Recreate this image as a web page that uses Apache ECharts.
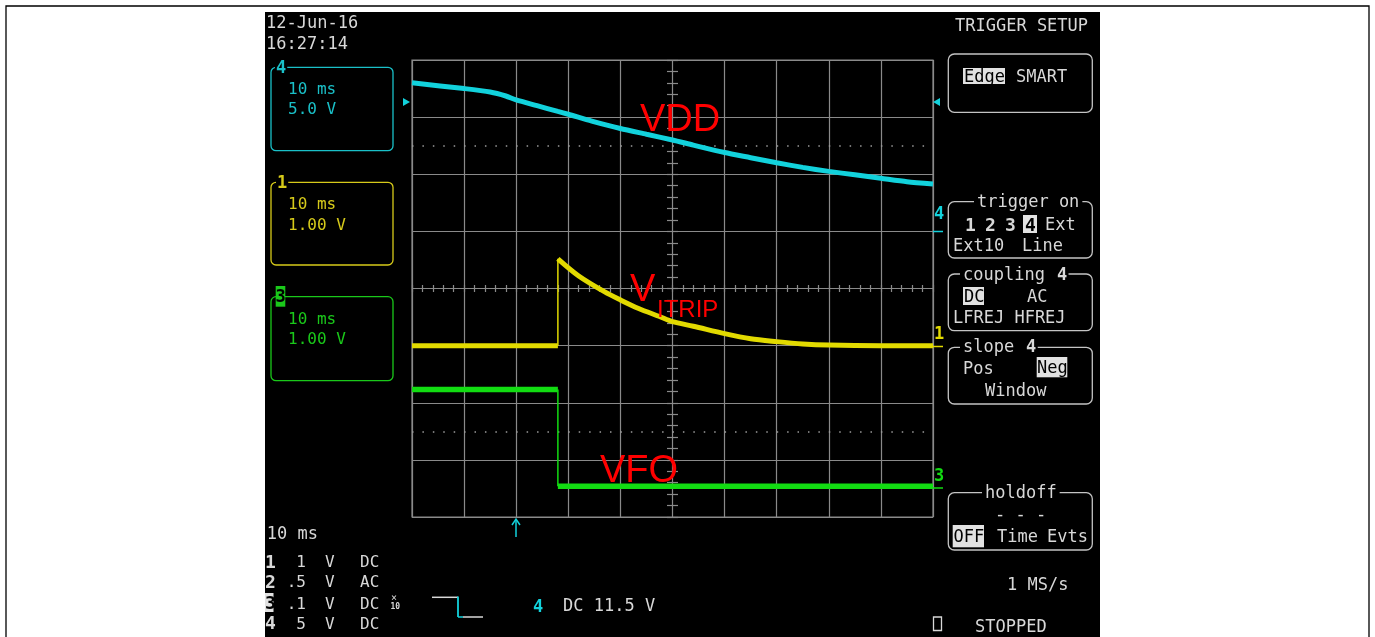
<!DOCTYPE html>
<html><head><meta charset="utf-8">
<script src="https://cdn.jsdelivr.net/npm/echarts@6/dist/echarts.min.js"></script>
<style>html,body{margin:0;padding:0;background:#fff}#c{width:1375px;height:637px}</style>
</head><body><div id="c"></div>
<script>
// ---- data (time in ms, 10 ms/div; voltages in V) ----
const timeMin = -20, timeMax = 80, timeStep = 10;
const divMin = -4, divMax = 4;

// Channel 4 : VDD (5 V/div)
const vddTime  = [-20, -10, -5, -2, 0, 4, 8, 10, 14.5, 20, 25, 30, 34, 40, 45, 50, 55, 60, 65, 70, 75, 80];
const vddVolts = [13.0, 12.5, 12.2, 11.85, 11.5, 11.0, 10.5, 10.25, 9.65, 9.0, 8.5, 8.0, 7.55, 6.9, 6.45, 6.0, 5.6, 5.25, 4.95, 4.65, 4.35, 4.15];

// Channel 1 : VITRIP (1 V/div)
const itripBaseTime  = [-20, 8];
const itripBaseVolts = [0, 0];
const itripTime  = [8, 12, 17, 20, 23.5, 27.5, 30, 34, 40, 45, 50, 55, 60, 70, 80];
const itripVolts = [1.52, 1.22, 0.94, 0.80, 0.65, 0.51, 0.42, 0.34, 0.21, 0.12, 0.07, 0.03, 0.01, 0, 0];

// Channel 3 : VFO (1 V/div)
const vfoHighTime  = [-20, 8];
const vfoHighVolts = [1.69, 1.69];
const vfoLowTime   = [8, 80];
const vfoLowVolts  = [0, 0];

const edgeTime = 8;
const dottedLevels = [2.5, -2.5];

// channel vertical settings: volts per division and ground position (div)
const chVDD   = { voltsPerDiv: 5, groundDiv: 1.0 };
const chITRIP = { voltsPerDiv: 1, groundDiv: -1.0 };
const chVFO   = { voltsPerDiv: 1, groundDiv: -3.46 };

// ---- helpers ----
const toDiv = (v, c) => v / c.voltsPerDiv + c.groundDiv;
const pts = (ts, vs, c) => ts.map((t, i) => [t, toDiv(vs[i], c)]);

const CYAN = '#12d2dc', CYAN_T = '#1ac0c8';
const YEL = '#e2da00', YEL_T = '#d6ca1a';
const GRN = '#12dc12', GRN_T = '#1ac81a';
const WH = '#d8d8d8', BOXC = '#c4c4c4', GRID = '#8a8a8a';
const MONO = '"DejaVu Sans Mono", monospace';
const SANS = '"Liberation Sans", Arial, sans-serif';

function T(x, y, text, fill, o) {
  o = o || {};
  const fam = o.family || MONO;
  const dy = fam === MONO ? 2 : 3.5;
  const st = {
    text: text, fill: fill,
    font: (o.bold ? 'bold ' : '') + (o.size || 17) + 'px ' + fam,
    align: o.align || 'left', textAlign: o.align || 'left',
    verticalAlign: 'middle', textVerticalAlign: 'middle'
  };
  if (o.bg) { st.backgroundColor = o.bg; st.padding = o.pad || [0, 3]; }
  return { type: 'text', x: x, y: y + dy, z: 100, silent: true, style: st };
}
function R(x, y, w, h, stroke, fill, r, z) {
  return { type: 'rect', z: z == null ? 50 : z, silent: true,
    shape: { x: x, y: y, width: w, height: h, r: r || 0 },
    style: { fill: fill || 'none', stroke: stroke || null, lineWidth: 1.3 } };
}
function L(x1, y1, x2, y2, color, w) {
  return { type: 'line', z: 60, silent: true, shape: { x1: x1, y1: y1, x2: x2, y2: y2 },
    style: { stroke: color, lineWidth: w || 1.5 } };
}
function P(points, color) {
  return { type: 'polygon', z: 60, silent: true, shape: { points: points }, style: { fill: color } };
}

const graphics = [
  // screen background and page frame
  R(6, 6, 1363, 660, '#000', 'none', 0, -20),
  R(265, 12, 835, 640, null, '#000', 0, -10),

  // top-left date / time
  T(266, 21.5, '12-Jun-16', WH),
  T(266, 42.5, '16:27:14', WH),

  // channel 4 box
  R(271, 67.3, 122, 83.4, CYAN_T, 'none', 5),
  T(275, 67, '4', CYAN_T, { bold: true, bg: '#000', pad: [0, 1] }),
  T(288, 88, '10 ms', CYAN_T, { size: 16 }),
  T(288, 108, '5.0 V', CYAN_T, { size: 16 }),
  // channel 1 box
  R(271, 182.3, 122, 82.7, YEL_T, 'none', 5),
  T(276, 181.5, '1', YEL_T, { bold: true, bg: '#000', pad: [0, 1] }),
  T(288, 203, '10 ms', YEL_T, { size: 16 }),
  T(288, 223.5, '1.00 V', YEL_T, { size: 16 }),
  // channel 3 box
  R(271, 296.7, 122, 84, GRN_T, 'none', 5),
  R(275.7, 286, 9.6, 20.7, null, GRN_T, 0, 55),
  T(275.5, 296, '3', '#000', { bold: true }),
  T(288, 317.5, '10 ms', GRN_T, { size: 16 }),
  T(288, 338, '1.00 V', GRN_T, { size: 16 }),

  // right menu
  T(955, 25, 'TRIGGER SETUP', WH),
  R(948.3, 54, 144, 58.3, BOXC, 'none', 6),
  R(963, 68, 42, 16, null, '#e2e2e2', 0, 55),
  T(964, 75.5, 'Edge', '#000'),
  T(1016, 75.5, 'SMART', WH),

  R(948.3, 201.7, 144, 56.3, BOXC, 'none', 6),
  T(974, 201, 'trigger on', WH, { bg: '#000', pad: [0, 3] }),
  T(965, 224, '1', WH, { bold: true, size: 18 }),
  T(985, 224, '2', WH, { bold: true, size: 18 }),
  T(1005, 224, '3', WH, { bold: true, size: 18 }),
  R(1023, 215, 14, 18, null, '#e2e2e2', 0, 55),
  T(1025, 224, '4', '#000', { bold: true, size: 18 }),
  T(1045, 224, 'Ext', WH),
  T(953, 245, 'Ext10', WH),
  T(1022, 245, 'Line', WH),

  R(948.3, 274, 144, 56.7, BOXC, 'none', 6),
  T(960, 273.5, 'coupling  ', WH, { bg: '#000', pad: [0, 3] }),
  T(1056, 273.5, '4', WH, { bold: true, bg: '#000', pad: [0, 1] }),
  R(963, 287, 21, 18, null, '#e2e2e2', 0, 55),
  T(964, 296, 'DC', '#000'),
  T(1027, 296, 'AC', WH),
  T(953, 316.5, 'LFREJ HFREJ', WH),

  R(948.3, 347.3, 144, 56.7, BOXC, 'none', 6),
  T(960, 346, 'slope  ', WH, { bg: '#000', pad: [0, 3] }),
  T(1025, 346, '4', WH, { bold: true, bg: '#000', pad: [0, 1] }),
  T(963, 368, 'Pos', WH),
  R(1036.7, 357, 30.6, 20.3, null, '#e2e2e2', 0, 55),
  T(1037, 367, 'Neg', '#000'),
  T(985, 390, 'Window', WH),

  R(948.3, 492.7, 144, 57.3, BOXC, 'none', 6),
  T(982, 492, 'holdoff', WH, { bg: '#000', pad: [0, 3] }),
  T(995, 514, '- - -', WH),
  R(952.7, 525, 31.3, 22.3, null, '#e2e2e2', 0, 55),
  T(953.5, 535.5, 'OFF', '#000'),
  T(997, 536, 'Time', WH),
  T(1047, 536, 'Evts', WH),

  T(1007, 583.5, '1 MS/s', WH),
  R(933.5, 617, 8, 13.5, WH, 'none', 0),
  T(975, 625.5, 'STOPPED', WH),

  // right edge channel markers
  P([[933, 102], [940, 98], [940, 106]], CYAN),
  T(934, 213, '4', CYAN, { bold: true }),
  L(933, 231.5, 943, 231.5, CYAN, 1.5),
  T(934, 333, '1', YEL, { bold: true }),
  L(930, 346.5, 943, 346.5, YEL, 1.5),
  T(934, 475, '3', GRN, { bold: true }),
  L(930, 488, 943, 488, GRN, 1.5),
  // left edge trigger level marker
  P([[410, 102], [403, 98], [403, 106]], CYAN),

  // trigger position arrow
  L(516, 537, 516, 520, CYAN, 1.5),
  { type: 'polyline', z: 60, silent: true, shape: { points: [[512, 525], [516, 519], [520, 525]] }, style: { stroke: CYAN, lineWidth: 1.5, fill: 'none' } },

  // bottom-left summary
  T(266.7, 532.5, '10 ms', WH),
  T(265, 561, '1', WH, { bold: true, size: 18 }),
  T(265, 581, '2', WH, { bold: true, size: 18 }),
  R(265, 593, 8.5, 19, null, '#e2e2e2', 0, 55),
  T(265, 602, '3', '#000', { bold: true, size: 18 }),
  T(265, 622.5, '4', WH, { bold: true, size: 18 }),
  T(306, 561, '1', WH, { size: 16, align: 'right' }),
  T(306, 581, '.5', WH, { size: 16, align: 'right' }),
  T(306, 602.5, '.1', WH, { size: 16, align: 'right' }),
  T(306, 622.5, '5', WH, { size: 16, align: 'right' }),
  T(325, 561, 'V', WH, { size: 16 }),
  T(325, 581, 'V', WH, { size: 16 }),
  T(325, 602.5, 'V', WH, { size: 16 }),
  T(325, 622.5, 'V', WH, { size: 16 }),
  T(360, 561, 'DC', WH, { size: 16 }),
  T(360, 581, 'AC', WH, { size: 16 }),
  T(360, 602.5, 'DC', WH, { size: 16 }),
  T(360, 622.5, 'DC', WH, { size: 16 }),
  T(391, 596, '×', WH, { size: 10 }),
  T(390.5, 605, '10', WH, { size: 8, bold: true }),

  // trigger slope symbol
  L(432, 597.3, 458, 597.3, WH, 1.5),
  L(458, 596.6, 458, 617, CYAN, 1.8),
  L(458, 617, 463, 617, CYAN, 1.5),
  L(463, 617, 483, 617, WH, 1.5),
  T(533, 605.5, '4', CYAN, { bold: true }),
  T(563, 605, 'DC 11.5 V', WH),

  // red annotations
  T(640, 117, 'VDD', '#ff0000', { size: 38, family: SANS }),
  T(630, 287, 'V', '#ff0000', { size: 38, family: SANS }),
  T(657, 306.5, 'ITRIP', '#ff0000', { size: 24, family: SANS }),
  T(600, 468, 'VFO', '#ff0000', { size: 38, family: SANS })
];

const tickStyle = { color: GRID, width: 1.2 };
function tickAxis(dim, inside, len) {
  return {
    type: 'value', gridIndex: 0,
    min: dim === 'x' ? -5 : divMin, max: dim === 'x' ? 5 : divMax, interval: 1,
    position: dim === 'x' ? 'bottom' : 'left',
    axisLine: { show: false, onZero: true, onZeroAxisIndex: 1 },
    axisTick: { show: true, inside: inside, length: len, lineStyle: tickStyle },
    minorTick: { show: true, splitNumber: 5, length: len, lineStyle: tickStyle },
    axisLabel: { show: false }, splitLine: { show: false }, axisPointer: { show: false }
  };
}

const traceSeries = (name, data, color, width, extra) => Object.assign({
  name: name, type: 'line', xAxisIndex: 0, yAxisIndex: 0, data: data,
  showSymbol: false, symbol: 'none', silent: true, animation: false,
  lineStyle: { color: color, width: width, cap: 'butt' }, z: 5
}, extra || {});

const option = {
  backgroundColor: '#ffffff',
  animation: false,
  grid: { left: 412, top: 60, width: 521, height: 457, show: true, borderColor: GRID, borderWidth: 1.2,
          backgroundColor: 'transparent', containLabel: false, outerBoundsMode: 'none' },
  xAxis: [
    { type: 'value', min: timeMin, max: timeMax, interval: timeStep,
      axisLine: { show: false, onZero: false }, axisTick: { show: false }, axisLabel: { show: false },
      splitLine: { show: true, lineStyle: { color: GRID, width: 1.2 } } },
    tickAxis('x', false, 3.5),
    tickAxis('x', true, 3.5)
  ],
  yAxis: [
    { type: 'value', min: divMin, max: divMax, interval: 1,
      axisLine: { show: false, onZero: false }, axisTick: { show: false }, axisLabel: { show: false },
      splitLine: { show: true, lineStyle: { color: GRID, width: 1.2 } } },
    tickAxis('y', false, 5.5),
    tickAxis('y', true, 5.5)
  ],
  graphic: { elements: graphics },
  series: [
    traceSeries('VDD', pts(vddTime, vddVolts, chVDD), CYAN, 5, {
      smooth: 0.25,
      markLine: { silent: true, symbol: 'none', animation: false, label: { show: false },
        lineStyle: { color: '#9a9a9a', width: 1.5, type: [1.5, 8.92] },
        data: dottedLevels.map(v => ({ yAxis: v })) }
    }),
    traceSeries('VITRIP base', pts(itripBaseTime, itripBaseVolts, chITRIP), YEL, 5),
    traceSeries('VITRIP', pts(itripTime, itripVolts, chITRIP), YEL, 5, { smooth: 0.3 }),
    traceSeries('VITRIP edge', [[edgeTime, toDiv(itripBaseVolts[1], chITRIP)], [edgeTime, toDiv(itripVolts[0], chITRIP)]], YEL, 1.5),
    traceSeries('VFO high', pts(vfoHighTime, vfoHighVolts, chVFO), GRN, 5.5),
    traceSeries('VFO low', pts(vfoLowTime, vfoLowVolts, chVFO), GRN, 5.5),
    traceSeries('VFO edge', [[edgeTime, toDiv(vfoHighVolts[1], chVFO)], [edgeTime, toDiv(vfoLowVolts[0], chVFO)]], GRN, 1.5)
  ]
};

const chart = echarts.init(document.getElementById('c'), null, { renderer: 'canvas' });
chart.setOption(option);
</script></body></html>
